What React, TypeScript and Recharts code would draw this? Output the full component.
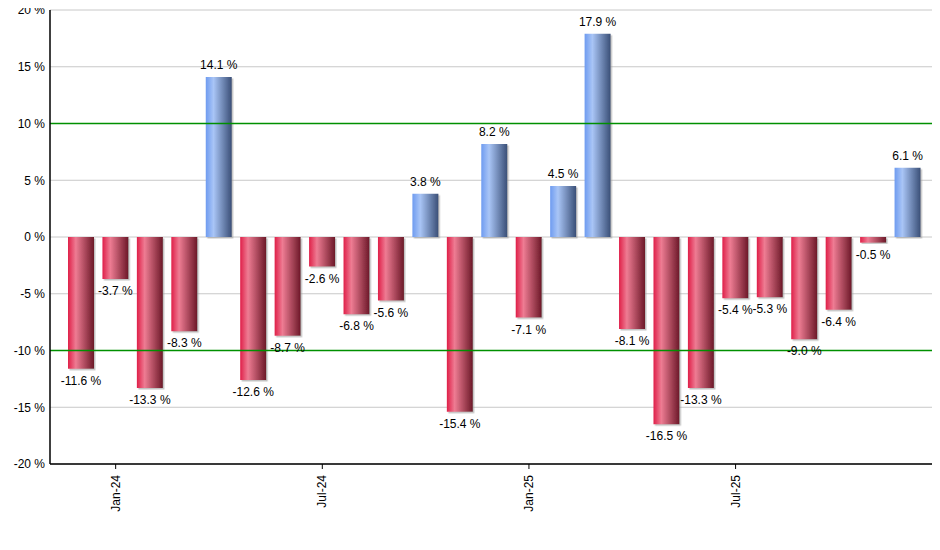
import React from 'react';
import { BarChart, Bar, XAxis, YAxis, CartesianGrid, ReferenceLine, Cell, LabelList } from 'recharts';

const months = [
  'Dec-23', 'Jan-24', 'Feb-24', 'Mar-24', 'Apr-24', 'May-24', 'Jun-24', 'Jul-24', 'Aug-24', 'Sep-24', 'Oct-24', 'Nov-24',
  'Dec-24', 'Jan-25', 'Feb-25', 'Mar-25', 'Apr-25', 'May-25', 'Jun-25', 'Jul-25', 'Aug-25', 'Sep-25', 'Oct-25', 'Nov-25', 'Dec-25',
];
const returns = [
  -11.6, -3.7, -13.3, -8.3, 14.1, -12.6, -8.7, -2.6, -6.8, -5.6, 3.8, -15.4,
  8.2, -7.1, 4.5, 17.9, -8.1, -16.5, -13.3, -5.4, -5.3, -9.0, -6.4, -0.5, 6.1,
];
const yTicks = [-20, -15, -10, -5, 0, 5, 10, 15, 20];
const labelledMonths = ['Jan-24', 'Jul-24', 'Jan-25', 'Jul-25'];

const data = months.map((m, i) => ({ m, v: returns[i] }));

const font = '"Liberation Sans", Arial, sans-serif';

function MonthTick(props: any) {
  const { x, y, payload } = props;
  if (!labelledMonths.includes(payload.value)) return null;
  return (
    <g>
      <line x1={x} x2={x} y1={y - 8} y2={y - 3} stroke="#000" />
      <text x={x} y={y} transform={`rotate(-90, ${x}, ${y})`} dx={-3} dy={4} textAnchor="end"
        fontSize={12} fontFamily={font} fill="#000">{payload.value}</text>
    </g>
  );
}

function ValueLabel(props: any) {
  const { x, y, width, height, value } = props;
  const cx = x + width / 2;
  const top = Math.min(y, y + height);
  const bottom = Math.max(y, y + height);
  const ty = value >= 0 ? top - 8 : bottom + 16;
  return (
    <text x={cx} y={ty} textAnchor="middle" fontSize={12} fontFamily={font} fill="#000">
      {value.toFixed(1)} %
    </text>
  );
}

export default function App() {
  return (
    <div style={{ margin: -8, width: 940, height: 550, background: '#fff' }}>
      <BarChart width={940} height={550} data={data} margin={{ top: 10, right: 1, bottom: 0, left: 0 }}
        barSize={26}>
        <defs>
          <linearGradient id="redBar" x1="0" y1="0" x2="1" y2="0">
            <stop offset="0%" stopColor="#df1f48" />
            <stop offset="30%" stopColor="#ee7c93" />
            <stop offset="100%" stopColor="#6c1828" />
          </linearGradient>
          <linearGradient id="blueBar" x1="0" y1="0" x2="1" y2="0">
            <stop offset="0%" stopColor="#6e9bf0" />
            <stop offset="30%" stopColor="#a9c5f6" />
            <stop offset="100%" stopColor="#3a4f77" />
          </linearGradient>
          <filter id="barShadow" x="-20%" y="-20%" width="140%" height="140%">
            <feDropShadow dx="1.5" dy="1.5" stdDeviation="0.3" floodColor="#999" floodOpacity="0.6" />
          </filter>
        </defs>
        <CartesianGrid vertical={false} stroke="#c8c8c8" />
        <XAxis dataKey="m" interval={0} tickLine={false} stroke="#000" strokeWidth={1.5} height={86}
          padding={{ left: 14, right: 14 }} tick={<MonthTick />} />
        <YAxis domain={[-20, 20]} ticks={yTicks} width={50} tickLine={false} stroke="#000" strokeWidth={1.5}
          tickFormatter={(v: number) => `${v} %`}
          tick={{ fontSize: 12, fontFamily: font, fill: '#000', dx: 3 }} />
        <ReferenceLine y={-10} stroke="#009000" strokeWidth={1.5} />
        <ReferenceLine y={10} stroke="#009000" strokeWidth={1.5} />
        <Bar dataKey="v" isAnimationActive={false} filter="url(#barShadow)">
          {data.map((d, i) => (
            <Cell key={i} fill={d.v >= 0 ? 'url(#blueBar)' : 'url(#redBar)'} />
          ))}
          <LabelList dataKey="v" content={<ValueLabel />} />
        </Bar>
      </BarChart>
    </div>
  );
}
